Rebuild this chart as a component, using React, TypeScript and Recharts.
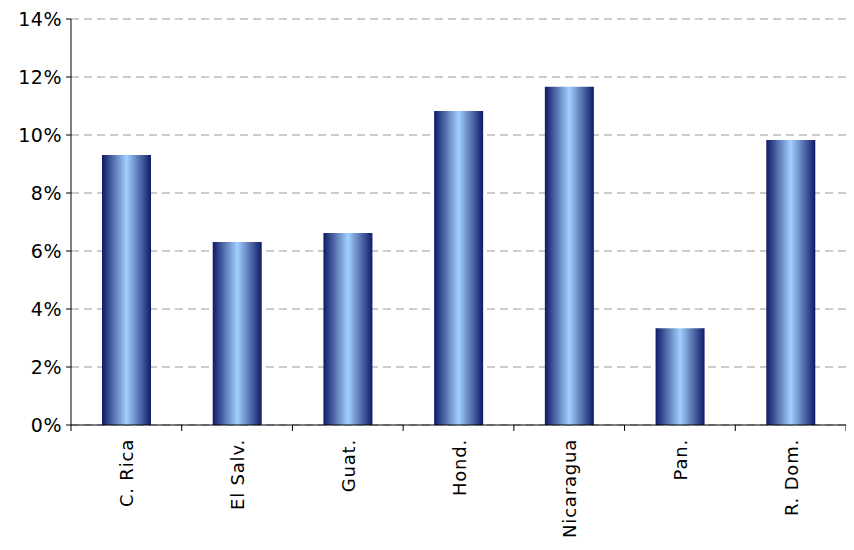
import React from 'react';
import { BarChart, Bar, XAxis, YAxis, CartesianGrid } from 'recharts';

const categories = ['C. Rica', 'El Salv.', 'Guat.', 'Hond.', 'Nicaragua', 'Pan.', 'R. Dom.'];
const values = [9.31, 6.31, 6.62, 10.83, 11.66, 3.34, 9.83];
const yTicks = [0, 2, 4, 6, 8, 10, 12, 14];

const data = categories.map((c, i) => ({ name: c, v: values[i] }));
const W = 846, H = 534;
const M = { top: 11, right: 8, left: 0, bottom: 0 };
const YW = 63;
const band = (W - M.right - YW) / categories.length;
const FONT = "'DejaVu Sans', sans-serif";

const XTick = (props: any) => {
  const { x, y, payload, index } = props;
  return (
    <g>
      <line x1={x - band / 2} x2={x - band / 2} y1={y - 8} y2={y - 2} stroke="#000" />
      {index === categories.length - 1 && (
        <line x1={x + band / 2} x2={x + band / 2} y1={y - 8} y2={y - 2} stroke="#000" />
      )}
      <text
        x={0}
        y={0}
        transform={`translate(${x + 7},${y + 6}) rotate(-90)`}
        textAnchor="end"
        fontSize={18}
        letterSpacing={0.8}
        fill="#000"
        fontFamily={FONT}
      >
        {payload.value}
      </text>
    </g>
  );
};

const YTick = (props: any) => {
  const { x, y, payload } = props;
  return (
    <text x={x - 2} y={y + 7} textAnchor="end" fontSize={19} letterSpacing={0.5} fill="#000" fontFamily={FONT}>
      {`${payload.value}%`}
    </text>
  );
};

export default function App() {
  return (
    <BarChart width={W} height={H} data={data} margin={M} barCategoryGap="28%">
      <defs>
        <linearGradient id="bg" x1="0" y1="0" x2="1" y2="0">
          <stop offset="0%" stopColor="#0f1a66" />
          <stop offset="50%" stopColor="#a2d0ff" />
          <stop offset="100%" stopColor="#0f1a66" />
        </linearGradient>
      </defs>
      <CartesianGrid vertical={false} stroke="#999" strokeDasharray="8 5" />
      <XAxis
        dataKey="name"
        height={117}
        tickLine={false}
        axisLine={{ stroke: '#000' }}
        tick={<XTick />}
        interval={0}
      />
      <YAxis
        width={YW}
        domain={[0, 14]}
        ticks={yTicks}
        axisLine={{ stroke: '#000' }}
        tickLine={{ stroke: '#000' }}
        tickSize={5}
        tick={<YTick />}
      />
      <Bar dataKey="v" fill="url(#bg)" isAnimationActive={false} />
    </BarChart>
  );
}
